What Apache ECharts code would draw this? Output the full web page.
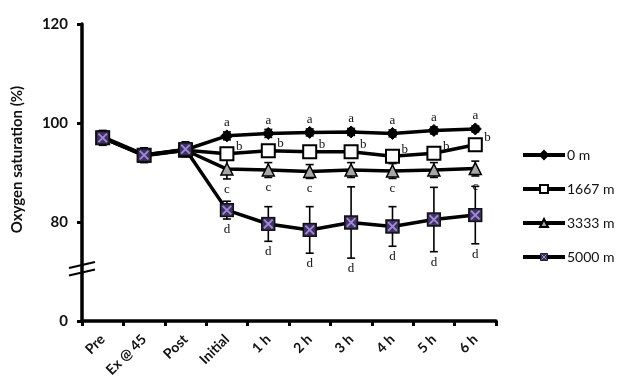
<!DOCTYPE html>
<html>
<head>
<meta charset="utf-8">
<script src="https://cdn.jsdelivr.net/npm/echarts@6/dist/echarts.min.js"></script>
<style>html,body{margin:0;padding:0;background:#fff;}#c{width:623px;height:389px;}</style>
</head>
<body>
<div id="c"></div>
<script>
const categories = ['Pre', 'Ex @ 45', 'Post', 'Initial', '1 h', '2 h', '3 h', '4 h', '5 h', '6 h'];
const seriesNames = ['0 m', '1667 m', '3333 m', '5000 m'];
const v0    = [97.2, 93.6, 94.6, 97.4, 97.9, 98.1, 98.2, 97.9, 98.5, 98.8];
const v1667 = [97.0, 93.5, 94.5, 93.8, 94.4, 94.2, 94.2, 93.3, 93.9, 95.6];
const v3333 = [97.0, 93.4, 94.5, 90.7, 90.5, 90.2, 90.5, 90.3, 90.5, 90.8];
const v5000 = [97.0, 93.5, 94.7, 82.4, 79.6, 78.4, 79.9, 79.1, 80.5, 81.4];
const e0    = [1.0, 1.0, 1.0, 0.8, 0.8, 0.7, 0.7, 0.7, 0.7, 0.6];
const e1667 = [1.0, 1.2, 1.2, 1.2, 1.0, 1.0, 1.0, 1.0, 1.0, 1.0];
const e3333 = [1.0, 1.2, 1.2, 2.0, 1.5, 1.4, 1.5, 1.5, 1.5, 1.5];
const e5000 = [1.5, 1.5, 1.5, 1.8, 3.5, 4.7, 7.2, 4.0, 6.5, 5.8];
const l0    = ['', '', '', 'a', 'a', 'a', 'a', 'a', 'a', 'a'];
const l1667 = ['', '', '', 'b', 'b', 'b', 'b', 'b', 'b', 'b'];
const l3333 = ['', '', '', 'c', 'c', 'c', '', 'c', '', 'c'];
const l5000 = ['', '', '', 'd', 'd', 'd', 'd', 'd', 'd', 'd'];
// broken axis: the lowest tick (drawn at 60 on the scale) is labelled 0
const yTickValues = [60, 80, 100, 120];
const yTickLabels = ['0', '80', '100', '120'];

const xSym = 'image://data:image/svg+xml;utf8,' + encodeURIComponent(
  "<svg xmlns='http://www.w3.org/2000/svg' width='28' height='28'><rect x='2' y='2' width='24' height='24' fill='#3f3263' stroke='#111' stroke-width='3'/><path d='M6 6L22 22M22 6L6 22' stroke='#a08ad8' stroke-width='3.5'/></svg>");

const chart = echarts.init(document.getElementById('c'));
const lineW = 3.5;

function errSeries(vals, errs, letters, pos, z) {
  return {
    type: 'custom', z: z, silent: true,
    data: vals.map((v, i) => [i, v, errs[i]]),
    renderItem: function (params, api) {
      const i = api.value(0), v = api.value(1), e = api.value(2);
      const top = api.coord([i, v + e]);
      const bot = api.coord([i, v - e]);
      const c = api.coord([i, v]);
      const cw = 4;
      const st = { stroke: '#000', lineWidth: 1.6 };
      const ch = [
        { type: 'line', shape: { x1: top[0], y1: top[1], x2: bot[0], y2: bot[1] }, style: st },
        { type: 'line', shape: { x1: top[0] - cw, y1: top[1], x2: top[0] + cw, y2: top[1] }, style: st },
        { type: 'line', shape: { x1: bot[0] - cw, y1: bot[1], x2: bot[0] + cw, y2: bot[1] }, style: st }
      ];
      const L = letters[params.dataIndex];
      if (L) {
        let tx = c[0], ty, va = 'middle', ta = 'center';
        if (pos === 'above') { ty = c[1] - 13; }
        else if (pos === 'right') { tx = c[0] + 9; ty = c[1] - 7; ta = 'left'; }
        else { ty = bot[1] + 4; va = 'top'; }
        ch.push({ type: 'text', z2: 10, style: { text: L, x: tx, y: ty, align: ta, verticalAlign: va,
          font: '13px "Liberation Serif", "DejaVu Serif", serif', fill: '#111' } });
      }
      return { type: 'group', children: ch };
    }
  };
}

const option = {
  animation: false,
  backgroundColor: '#fff',
  grid: { left: 82, right: 127, top: 24, bottom: 68 },
  legend: {
    orient: 'vertical', left: 521, top: 148, itemGap: 20, itemWidth: 42, itemHeight: 10,
    padding: 0,
    lineStyle: { width: 4, color: '#000' },
    textStyle: { fontFamily: 'Lato', fontSize: 14, color: '#111', padding: [0, 0, 0, -3] },
    data: seriesNames
  },
  xAxis: {
    type: 'category', data: categories, boundaryGap: true,
    axisLine: { lineStyle: { color: '#000', width: 3.5 } },
    axisTick: { show: true, length: 5, lineStyle: { color: '#000', width: 3 } },
    axisLabel: { rotate: 45, fontFamily: 'Lato', fontWeight: 'bold', fontSize: 14, color: '#111', margin: 16 },
    splitLine: { show: false }
  },
  yAxis: {
    type: 'value', min: 60, max: 120,
    name: 'Oxygen saturation (%)', nameLocation: 'middle', nameGap: 57,
    nameTextStyle: { fontFamily: 'Lato', fontWeight: 'bold', fontSize: 15, color: '#111', padding: [0, 0, 0, 26] },
    axisLine: { show: true, lineStyle: { color: '#000', width: 3.5 } },
    axisTick: { show: true, length: 5, customValues: yTickValues, lineStyle: { color: '#000', width: 3 } },
    axisLabel: { customValues: yTickValues, fontFamily: 'Lato', fontWeight: 'bold', fontSize: 15, color: '#111', margin: 14,
      formatter: function (v) { const k = yTickValues.indexOf(v); return k >= 0 ? yTickLabels[k] : ''; } },
    splitLine: { show: false }
  },
  series: [
    errSeries(v0, e0, l0, 'above', 1),
    errSeries(v1667, e1667, l1667, 'right', 1),
    errSeries(v3333, e3333, l3333, 'below', 1),
    errSeries(v5000, e5000, l5000, 'below', 1),
    { name: seriesNames[0], type: 'line', data: v0, z: 3, symbol: 'diamond', symbolSize: 12,
      lineStyle: { color: '#000', width: lineW }, itemStyle: { color: '#000', borderColor: '#000', borderWidth: 1 } },
    { name: seriesNames[1], type: 'line', data: v1667, z: 4, symbol: 'rect', symbolSize: 13,
      lineStyle: { color: '#000', width: lineW }, itemStyle: { color: '#fff', borderColor: '#000', borderWidth: 2 } },
    { name: seriesNames[2], type: 'line', data: v3333, z: 5, symbol: 'triangle', symbolSize: 12,
      lineStyle: { color: '#000', width: lineW }, itemStyle: { color: '#a6a6a6', borderColor: '#000', borderWidth: 1.5 } },
    { name: seriesNames[3], type: 'line', data: v5000, z: 6, symbol: xSym, symbolSize: 15,
      lineStyle: { color: '#000', width: lineW }, itemStyle: { color: '#3f3263', borderColor: '#000' } }
  ]
};
chart.setOption(option);

// axis break marks, placed from the axis scale
const yb1 = chart.convertToPixel({ yAxisIndex: 0 }, 71.3);
const yb2 = chart.convertToPixel({ yAxisIndex: 0 }, 69.8);
const xa = chart.convertToPixel({ xAxisIndex: 0 }, 0) - (chart.convertToPixel({ xAxisIndex: 0 }, 1) - chart.convertToPixel({ xAxisIndex: 0 }, 0)) / 2;
chart.setOption({
  graphic: [
    { type: 'line', z: 100, shape: { x1: xa - 13, y1: yb1 + 3, x2: xa + 13, y2: yb1 - 3 }, style: { stroke: '#000', lineWidth: 2 } },
    { type: 'line', z: 100, shape: { x1: xa - 13, y1: yb2 + 3, x2: xa + 13, y2: yb2 - 3 }, style: { stroke: '#000', lineWidth: 2 } }
  ]
});
</script>
</body>
</html>
